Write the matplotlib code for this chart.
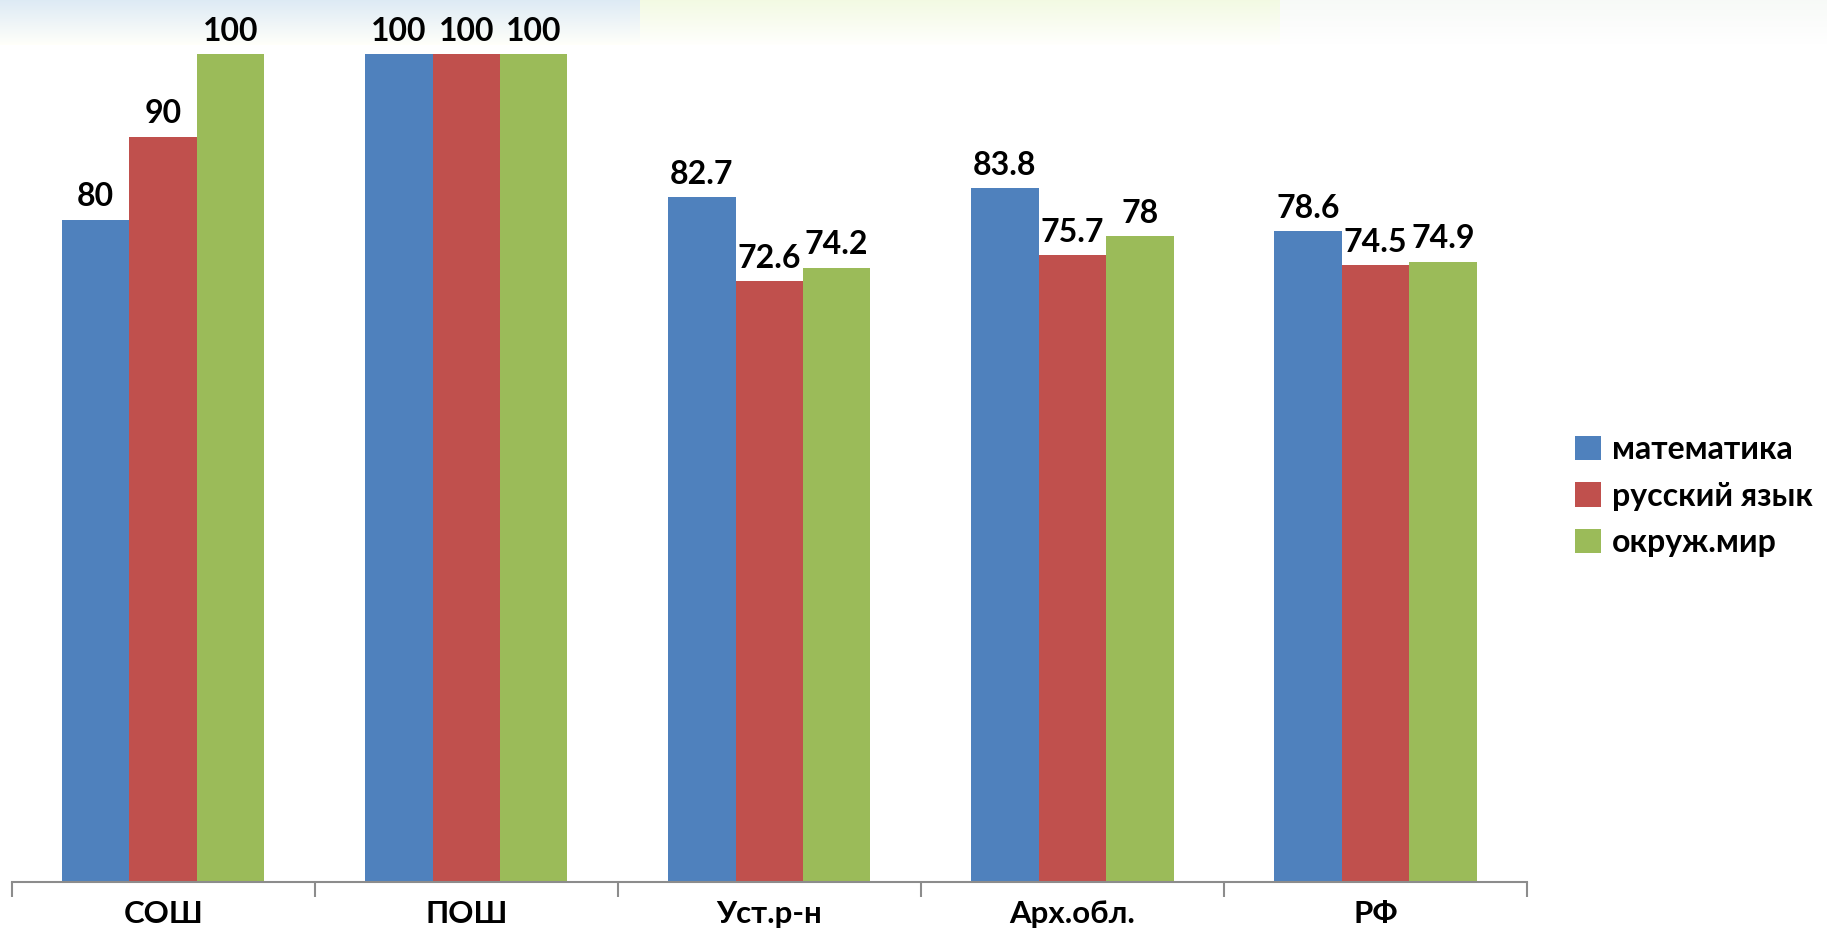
import numpy as np
import matplotlib
matplotlib.use("Agg")
import matplotlib.pyplot as plt

# Données du graphique
categories = ["СОШ", "ПОШ", "Уст.р-н", "Арх.обл.", "РФ"]
series = ["математика", "русский язык", "окруж.мир"]
math_vals = [80, 100, 82.7, 83.8, 78.6]
rus_vals = [90, 100, 72.6, 75.7, 74.5]
world_vals = [100, 100, 74.2, 78, 74.9]
colors = ["#4F81BD", "#C0504D", "#9BBB59"]

plt.rcParams["font.family"] = ["Lato", "DejaVu Sans"]

fig = plt.figure(figsize=(18.27, 9.32), dpi=100)

# bandeau dégradé en haut (fond de diapo)
bg = fig.add_axes([0, 1 - 45 / 932, 1, 45 / 932], zorder=0)
grad = np.ones((45, 1827, 3))
for j in range(45):
    t = j / 44
    grad[j, :640] = np.array([0.87, 0.92, 0.96]) * (1 - t) + np.array([1, 1, 0.98]) * t
    grad[j, 640:1280] = np.array([0.95, 0.98, 0.89]) * (1 - t) + np.array([1, 1, 0.99]) * t
    grad[j, 1280:] = np.array([0.97, 0.98, 0.97]) * (1 - t) + np.array([1, 1, 1]) * t
bg.imshow(grad, aspect="auto")
bg.axis("off")

ax = fig.add_axes([11.6 / 1827, 1 - 882 / 932, (1527 - 11.6) / 1827, 828 / 932], zorder=1)
ax.patch.set_alpha(0)

x = np.arange(len(categories))
w = 0.2225
for i, (vals, name) in enumerate(zip([math_vals, rus_vals, world_vals], series)):
    pos = x + (i - 1) * w
    bars = ax.bar(pos, vals, width=w, color=colors[i], label=name, zorder=2)
    for b, v in zip(bars, vals):
        ax.annotate(f"{v:g}", (b.get_x() + b.get_width() / 2, v), xytext=(0, 6),
                    textcoords="offset points", ha="center", va="bottom",
                    fontsize=23, fontweight="bold", annotation_clip=False)

ax.set_xlim(-0.5, len(categories) - 0.5)
ax.set_ylim(0, 100)
ax.set_yticks([])
for s in ["top", "right", "left"]:
    ax.spines[s].set_visible(False)
ax.spines["bottom"].set_color("#8c8c8c")
ax.spines["bottom"].set_linewidth(1.5)

ax.set_xticks(x)
ax.set_xticklabels(categories, fontsize=22.5, fontweight="bold")
ax.tick_params(axis="x", length=0, pad=13)
ax.set_xticks(np.arange(len(categories) + 1) - 0.5, minor=True)
ax.tick_params(axis="x", which="minor", length=11, width=1.5, color="#8c8c8c")

leg = fig.legend(loc="upper left", bbox_to_anchor=(1575 / 1827, 1 - 435 / 932),
                 frameon=False, fontsize=23, handlelength=0.8, handleheight=0.8,
                 handletextpad=0.35, labelspacing=0.55, borderpad=0, borderaxespad=0)
for t in leg.get_texts():
    t.set_fontweight("bold")

fig.savefig("out.png", dpi=100)
